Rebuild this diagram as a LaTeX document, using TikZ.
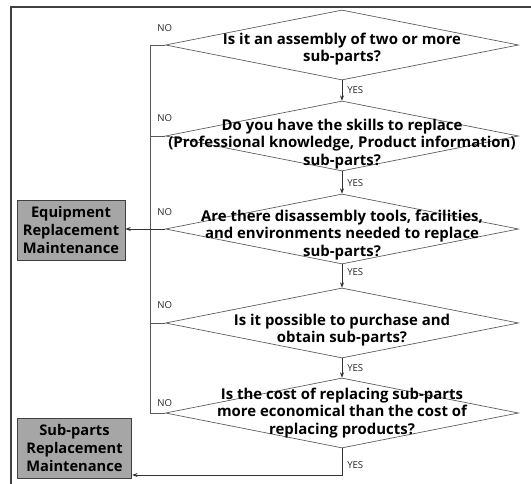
\documentclass[tikz,border=0pt]{standalone}
\usepackage{fontspec}
\setmainfont{Open Sans}
\usetikzlibrary{shapes.geometric,arrows.meta}

\begin{document}
\begin{tikzpicture}[x=0.75pt,y=-0.75pt,
    question/.style={diamond, draw=black!65, line width=0.5pt,
      minimum width=264.75pt, minimum height=52.5pt, inner sep=0pt},
    qtext/.style={font=\bfseries\fontsize{11.2}{13.2}\selectfont, align=center, inner sep=0pt},
    result/.style={draw=black!75, fill=black!35, line width=0.6pt,
      font=\bfseries\fontsize{11}{13.8}\selectfont, align=center, inner sep=0pt,
      minimum height=45pt},
    tag/.style={font=\fontsize{7.2}{8}\selectfont, text=black!85, inner sep=0pt},
    flow/.style={-{Stealth[length=4pt,width=3pt]}, line width=0.5pt, draw=black!80},
    link/.style={line width=0.5pt, draw=black!65}]
    \useasboundingbox (0,0) rectangle (531,484);
    % outer frame
    \draw [line width=1.3pt, black!75] (531,7) -- (11,7) -- (11,484);
    % questions
    \node [question] (q1) at (342,45) {};
    \node [question] (q2) at (342,136) {};
    \node [question] (q3) at (342,229) {};
    \node [question] (q4) at (342,323) {};
    \node [question] (q5) at (342,413) {};
    \node [qtext] (t1) at (342,49) {Is it an assembly of two or more\\sub-parts?};
    \node [qtext] (t2) at (342,144) {Do you have the skills to replace\\(Professional knowledge, Product information)\\sub-parts?};
    \node [qtext] (t3) at (342,235) {Are there disassembly tools, facilities,\\and environments needed to replace\\sub-parts?};
    \node [qtext] (t4) at (342,330) {Is it possible to purchase and\\obtain sub-parts?};
    \node [qtext] (t5) at (342,413) {Is the cost of replacing sub-parts\\more economical than the cost of\\replacing products?};
    % results
    \node [result, minimum width=81pt] (equip) at (71,230) {Equipment\\Replacement\\Maintenance};
    \node [result, minimum width=86pt] (sub) at (74.5,448) {Sub-parts\\Replacement\\Maintenance};
    % yes path
    \draw [flow] (q1.south) -- (q2.north);
    \draw [flow] (q2.south) -- (q3.north);
    \draw [flow] (q3.south) -- (q4.north);
    \draw [flow] (q4.south) -- (q5.north);
    \coordinate (turn) at (342,475);
    \draw [flow] (q5.south) -- (turn) -- (sub.east |- turn);
    \node [tag, anchor=west] (y1) at (347,90) {YES};
    \node [tag, anchor=west] (y2) at (347,183) {YES};
    \node [tag, anchor=west] (y3) at (347,272) {YES};
    \node [tag, anchor=west] (y4) at (347,368) {YES};
    \node [tag, anchor=west] (y5) at (347,465) {YES};
    % no path
    \coordinate (n1) at (150,45);
    \coordinate (n5) at (150,413);
    \draw [link] (q1.west) -- (n1) -- (n5) -- (q5.west);
    \draw [link] (q2.west) -- (150,136);
    \draw [link] (q4.west) -- (150,323);
    \draw [flow] (q3.west) -- (equip.east |- q3.west);
    \node [tag, anchor=west] (no1) at (157,28) {NO};
    \node [tag, anchor=west] (no2) at (157,118) {NO};
    \node [tag, anchor=west] (no3) at (157,212) {NO};
    \node [tag, anchor=west] (no4) at (157,305) {NO};
    \node [tag, anchor=west] (no5) at (157,403) {NO};
\end{tikzpicture}
\end{document}
